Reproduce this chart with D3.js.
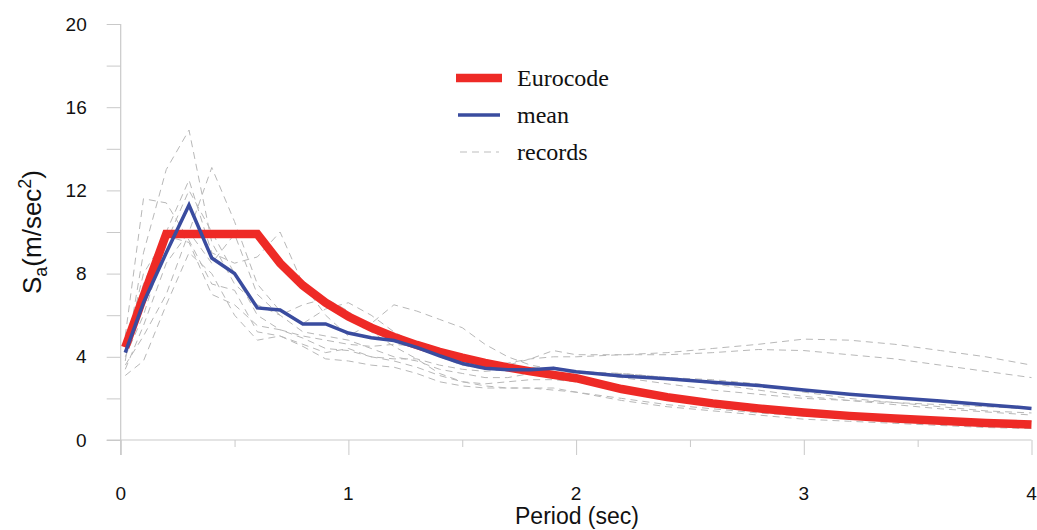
<!DOCTYPE html>
<html>
<head>
<meta charset="utf-8">
<script src="https://cdn.jsdelivr.net/npm/d3@7"></script>
<style>
  body { margin: 0; background: #fff; }
  svg { display: block; }
</style>
</head>
<body>
<div id="chart"></div>
<script>
/////////////////////////////////////////////////////////
// data
/////////////////////////////////////////////////////////
var periods = [0.02, 0.1, 0.2, 0.3, 0.4, 0.5, 0.6, 0.7, 0.8, 0.9, 1.0, 1.1, 1.2, 1.3, 1.4, 1.5,
  1.6, 1.7, 1.8, 1.9, 2.0, 2.2, 2.4, 2.6, 2.8, 3.0, 3.2, 3.4, 3.6, 3.8, 4.0];

var eurocode = [4.45, 6.9, 9.9, 9.9, 9.9, 9.9, 9.9, 8.5, 7.43, 6.6, 5.94, 5.4, 4.95, 4.57, 4.24, 3.96,
  3.71, 3.49, 3.3, 3.13, 2.97, 2.45, 2.06, 1.76, 1.52, 1.32, 1.16, 1.03, 0.92, 0.82, 0.74];

var mean = [4.2, 6.6, 9.0, 11.3, 8.75, 8.0, 6.35, 6.25, 5.58, 5.58, 5.14, 4.92, 4.78, 4.45, 4.05, 3.68,
  3.45, 3.38, 3.38, 3.45, 3.28, 3.08, 2.95, 2.78, 2.62, 2.4, 2.2, 2.03, 1.88, 1.7, 1.52];

var records = [
  [3.8, 9.0, 13.0, 14.9, 9.5, 7.5, 6.5, 6.0, 5.2, 5.0, 4.8, 4.4, 4.0, 3.8, 3.4, 3.2,
   3.0, 3.0, 3.2, 3.5, 3.3, 3.2, 3.0, 2.9, 2.7, 2.3, 2.0, 1.8, 1.6, 1.4, 1.3],
  [5.0, 11.6, 11.4, 9.6, 7.5, 7.2, 5.2, 5.0, 4.6, 4.2, 4.4, 4.0, 3.8, 3.5, 3.1, 2.8,
   2.6, 2.5, 2.5, 2.4, 2.3, 1.9, 1.6, 1.4, 1.2, 1.0, 0.9, 0.8, 0.7, 0.6, 0.55],
  [3.4, 5.5, 8.5, 10.0, 13.1, 10.5, 7.5, 6.2, 5.6, 6.3, 6.6, 6.0, 5.2, 4.6, 4.0, 3.6,
   3.4, 3.6, 3.9, 4.3, 4.1, 4.1, 4.2, 4.4, 4.6, 4.85, 4.8, 4.6, 4.3, 4.0, 3.6],
  [4.5, 7.5, 10.0, 12.5, 9.0, 8.5, 8.8, 10.0, 7.5, 6.0, 5.0, 5.6, 6.5, 6.2, 5.8, 5.4,
   4.6, 4.0, 3.6, 3.4, 3.3, 3.0, 2.7, 2.4, 2.2, 2.0, 1.9, 1.8, 1.7, 1.6, 1.5],
  [3.1, 3.8, 6.5, 9.0, 8.0, 6.0, 4.8, 5.0, 4.5, 3.9, 3.8, 3.6, 3.5, 3.2, 2.8, 2.6,
   2.5, 2.5, 2.5, 2.5, 2.3, 2.0, 1.7, 1.5, 1.3, 1.15, 1.05, 1.0, 0.95, 0.9, 0.9],
  [4.0, 6.0, 9.5, 12.0, 10.0, 8.0, 6.0, 5.3, 5.0, 4.8, 4.6, 4.5, 4.6, 4.5, 4.2, 3.8,
   3.6, 3.7, 3.9, 4.0, 4.0, 4.1, 4.1, 4.2, 4.35, 4.3, 4.1, 3.9, 3.6, 3.3, 3.0],
  [4.3, 8.0, 9.8, 9.5, 7.0, 6.5, 5.5, 5.3, 4.9, 4.4, 4.3, 4.0, 3.9, 3.9, 3.6, 3.4,
   3.3, 3.4, 3.5, 3.4, 3.2, 3.2, 3.0, 2.7, 2.4, 2.1, 1.9, 1.7, 1.5, 1.35, 1.2],
  [3.6, 5.0, 7.0, 10.0, 8.5, 9.9, 7.0, 6.0, 6.5, 6.8, 6.2, 5.2, 4.5, 3.9, 3.2, 2.8,
   2.7, 2.8, 2.9, 2.9, 2.8, 2.4, 2.0, 1.7, 1.5, 1.3, 1.1, 1.0, 0.85, 0.75, 0.65]
];

var xTicks = [0, 1, 2, 3, 4];
var xMinorTicks = [0.5, 1.5, 2.5, 3.5];
var yTicks = [0, 4, 8, 12, 16, 20];
var yMinorTicks = [2, 6, 10, 14, 18];

var legendLabels = ["Eurocode", "mean", "records"];

/////////////////////////////////////////////////////////
//
/////////////////////////////////////////////////////////
var W = 1037, H = 530;
var axisColor = "#c9c9c9";

var svg = d3.select("#chart").append("svg")
  .attr("width", W)
  .attr("height", H);

var x = d3.scaleLinear().domain([0, 4]).range([120.7, 1031.5]);
var y = d3.scaleLinear().domain([0, 20]).range([440, 24]);

// y axis, ticks to the left
var yAxis = svg.append("g")
  .attr("transform", "translate(" + x(0) + ",0)")
  .call(d3.axisLeft(y).tickValues(yTicks.concat(yMinorTicks)).tickSize(14).tickSizeOuter(0).tickFormat(""));
yAxis.select(".domain").remove();
yAxis.selectAll("line").attr("stroke", axisColor).attr("stroke-width", 1);

svg.append("line")
  .attr("x1", x(0)).attr("x2", x(0))
  .attr("y1", y(20)).attr("y2", y(0) + 15)
  .attr("stroke", axisColor).attr("stroke-width", 1.2);

yAxis.selectAll(".lbl")
  .data(yTicks)
  .enter().append("text")
  .attr("x", -34)
  .attr("y", function(d) { return y(d); })
  .attr("dy", "0.35em")
  .attr("text-anchor", "end")
  .attr("font-family", "Liberation Sans, Arial, sans-serif")
  .attr("font-size", 19)
  .attr("fill", "#111")
  .text(function(d) { return d; });

// x axis, ticks downward
var xAxis = svg.append("g")
  .attr("transform", "translate(0," + y(0) + ")")
  .call(d3.axisBottom(x).tickValues(xTicks).tickSize(15).tickSizeOuter(0).tickFormat(""));
xAxis.select(".domain").remove();
xAxis.selectAll("line").attr("stroke", axisColor).attr("stroke-width", 1);

var xMinor = svg.append("g")
  .attr("transform", "translate(0," + y(0) + ")")
  .call(d3.axisBottom(x).tickValues(xMinorTicks).tickSize(7).tickSizeOuter(0).tickFormat(""));
xMinor.select(".domain").remove();
xMinor.selectAll("line").attr("stroke", axisColor).attr("stroke-width", 1);

svg.append("line")
  .attr("x1", x(0) - 14).attr("x2", x(4))
  .attr("y1", y(0)).attr("y2", y(0))
  .attr("stroke", axisColor).attr("stroke-width", 1.2);

xAxis.selectAll(".lbl")
  .data(xTicks)
  .enter().append("text")
  .attr("x", function(d) { return x(d); })
  .attr("y", 60)
  .attr("text-anchor", "middle")
  .attr("font-family", "Liberation Sans, Arial, sans-serif")
  .attr("font-size", 19)
  .attr("fill", "#111")
  .text(function(d) { return d; });

// axis titles
svg.append("text")
  .attr("x", 577)
  .attr("y", 524)
  .attr("text-anchor", "middle")
  .attr("font-family", "Liberation Sans, Arial, sans-serif")
  .attr("font-size", 23)
  .attr("fill", "#111")
  .text("Period (sec)");

var yTitle = svg.append("text")
  .attr("transform", "translate(41,232) rotate(-90)")
  .attr("text-anchor", "middle")
  .attr("font-family", "Liberation Sans, Arial, sans-serif")
  .attr("font-size", 26)
  .attr("fill", "#111");
yTitle.append("tspan").text("S");
yTitle.append("tspan").attr("font-size", 18).attr("dy", 6).text("a");
yTitle.append("tspan").attr("dy", -6).text("(m/sec");
yTitle.append("tspan").attr("font-size", 18).attr("dy", -10).text("2");
yTitle.append("tspan").attr("dy", 10).text(")");

/////////////////////////////////////////////////////////
// lines
/////////////////////////////////////////////////////////
var line = d3.line()
  .x(function(d, i) { return x(periods[i]); })
  .y(function(d) { return y(d); });

svg.selectAll(".record")
  .data(records)
  .enter().append("path")
  .attr("class", "record")
  .attr("d", line)
  .attr("fill", "none")
  .attr("stroke", "#b8b8b8")
  .attr("stroke-width", 1)
  .attr("stroke-dasharray", "7,5");

svg.append("path")
  .attr("d", line(eurocode))
  .attr("fill", "none")
  .attr("stroke", "#ee2a26")
  .attr("stroke-width", 8.5)
  .attr("stroke-linejoin", "miter");

svg.append("path")
  .attr("d", line(mean))
  .attr("fill", "none")
  .attr("stroke", "#3a4c9f")
  .attr("stroke-width", 3.5)
  .attr("stroke-linejoin", "miter");

/////////////////////////////////////////////////////////
// legend
/////////////////////////////////////////////////////////
var legendStyles = [
  {color: "#ee2a26", width: 8.5, dash: null, x1: 456, x2: 502},
  {color: "#3a4c9f", width: 3.5, dash: null, x1: 458, x2: 500},
  {color: "#bdbdbd", width: 1, dash: "7,5", x1: 460, x2: 499}
];

var legend = svg.append("g");
legendLabels.forEach(function(label, i) {
  var ly = 78 + i * 37;
  var s = legendStyles[i];
  legend.append("line")
    .attr("x1", s.x1).attr("x2", s.x2)
    .attr("y1", ly).attr("y2", ly)
    .attr("stroke", s.color)
    .attr("stroke-width", s.width)
    .attr("stroke-dasharray", s.dash);
  legend.append("text")
    .attr("x", 517)
    .attr("y", ly)
    .attr("dy", "0.33em")
    .attr("font-family", "Liberation Serif, Times New Roman, serif")
    .attr("font-size", 24)
    .attr("fill", "#111")
    .text(label);
});
</script>
</body>
</html>
